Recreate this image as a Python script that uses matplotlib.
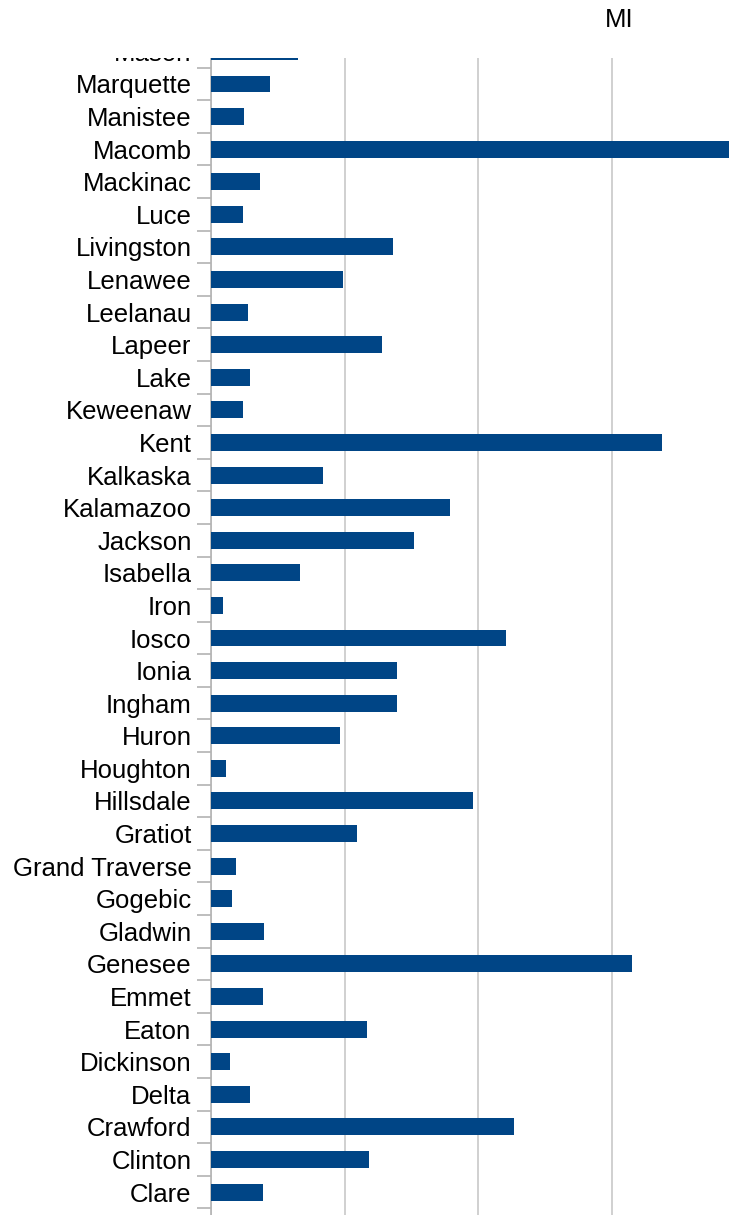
import matplotlib
matplotlib.use("Agg")
import matplotlib.pyplot as plt
from matplotlib.patches import Rectangle
from matplotlib.ticker import FixedLocator, NullFormatter

counties = ["Mason", "Marquette", "Manistee", "Macomb", "Mackinac", "Luce",
            "Livingston", "Lenawee", "Leelanau", "Lapeer", "Lake", "Keweenaw",
            "Kent", "Kalkaska", "Kalamazoo", "Jackson", "Isabella", "Iron",
            "Iosco", "Ionia", "Ingham", "Huron", "Houghton", "Hillsdale",
            "Gratiot", "Grand Traverse", "Gogebic", "Gladwin", "Genesee",
            "Emmet", "Eaton", "Dickinson", "Delta", "Crawford", "Clinton",
            "Clare", "Chippewa"]
values = [6.5, 4.4, 2.5, 45.0, 3.7, 2.4, 13.6, 9.9, 2.8, 12.8, 2.9, 2.4,
          33.8, 8.4, 17.9, 15.2, 6.7, 0.9, 22.1, 13.9, 13.9, 9.7, 1.1, 19.6,
          10.9, 1.9, 1.6, 4.0, 31.5, 3.9, 11.7, 1.4, 2.9, 22.7, 11.8, 3.9, 3.0]
title = "MI"

W, H = 729, 1215
plt.rcParams['font.family'] = ['Liberation Sans', 'DejaVu Sans']
fig = plt.figure(figsize=(W / 100, H / 100), dpi=100)

left_px = 211
ax_w_px = 650
ax = fig.add_axes([left_px / W, 0, ax_w_px / W, 1])
bar_color = "#004586"
ypos = list(range(len(counties)))
ax.barh(ypos, values, height=0.52, color=bar_color, zorder=3)

px_per_unit = 133.5 / 10
ax.set_xticks([0, 10, 20, 30, 40])
ax.xaxis.set_major_formatter(NullFormatter())
ax.tick_params(axis='x', length=0)
ax.grid(axis='x', color="#c8c8c8", linewidth=1.2, zorder=0)

ax.set_yticks(ypos)
ax.set_yticklabels(counties, fontsize=18.5)
ax.tick_params(axis='y', which='major', length=0, pad=14, labelcolor="#000000")
ax.yaxis.set_minor_locator(FixedLocator([i - 0.5 for i in range(len(counties) + 1)]))
ax.tick_params(axis='y', which='minor', length=10, width=1.2, color="#b3b3b3")

pitch = 32.59
y0 = 51.4
ax.set_xlim(0, ax_w_px / px_per_unit)
ax.set_ylim((H - y0) / pitch, -y0 / pitch)

for s in ["top", "right", "bottom"]:
    ax.spines[s].set_visible(False)
ax.spines["left"].set_color("#b3b3b3")
ax.spines["left"].set_linewidth(1.2)

fig.add_artist(Rectangle((0, 1 - 58 / H), 1, 58 / H, transform=fig.transFigure,
                         facecolor="white", edgecolor="none", zorder=5))
fig.text(619 / W, 1 - 20 / H, title, ha="center", va="center", fontsize=18.5,
         zorder=6)

fig.savefig("out.png", dpi=100, facecolor="white")
